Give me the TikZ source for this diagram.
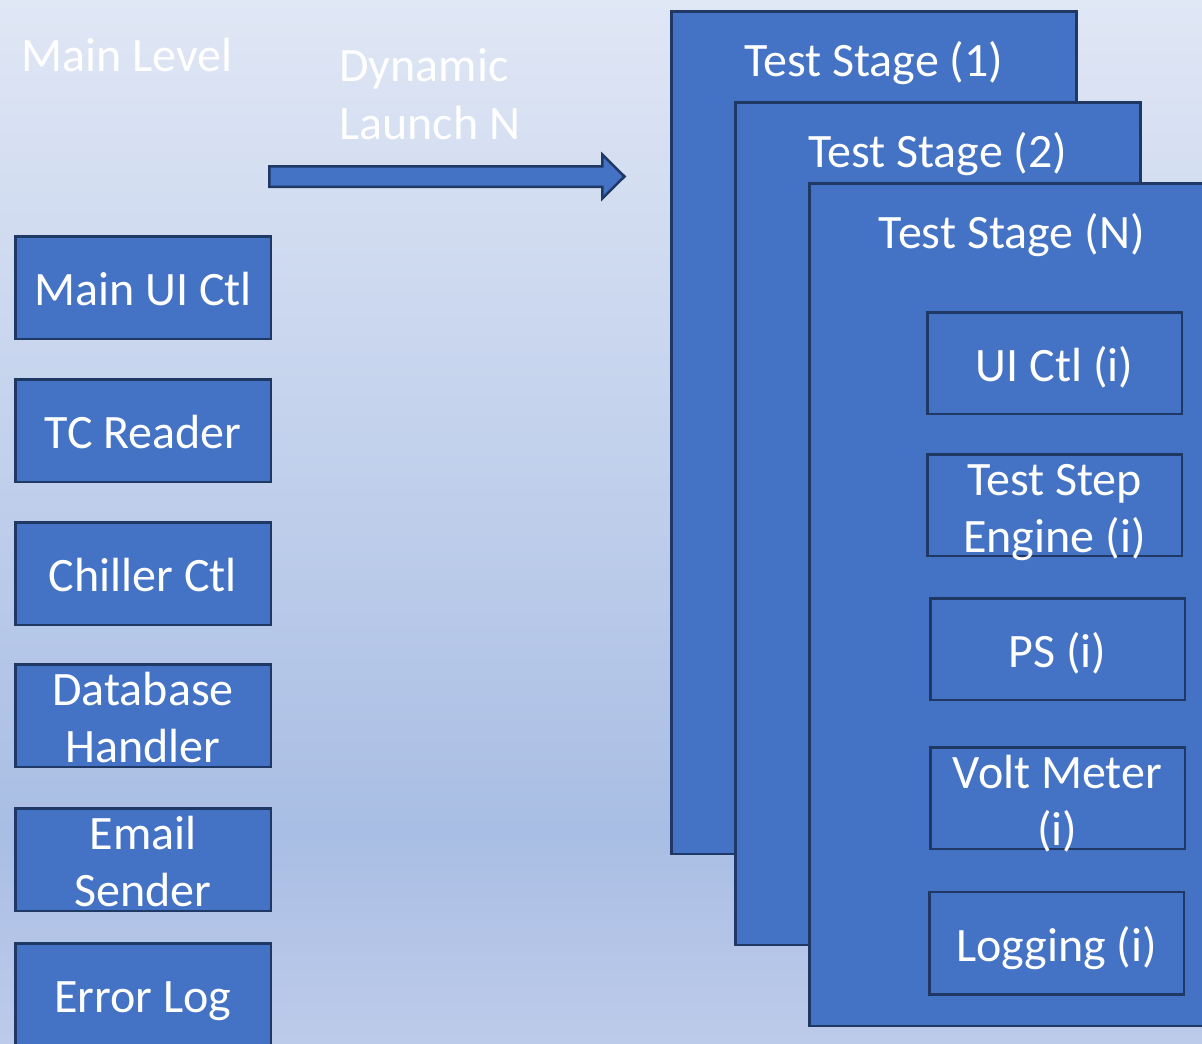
\documentclass[tikz,border=0pt]{standalone}
\usepackage{fontspec}
\setmainfont{Carlito}
\definecolor{boxfill}{HTML}{4472C4}
\definecolor{boxline}{HTML}{1F3864}
\definecolor{bgtop}{HTML}{E0E7F5}
\definecolor{bgmid}{HTML}{A9BEE4}
\definecolor{bgbot}{HTML}{BDCBEA}
\begin{document}
\begin{tikzpicture}[x=1pt,y=-1pt,
  blk/.style={draw=boxline, fill=boxfill, line width=2.5pt, inner sep=0pt, outer sep=0pt, anchor=north west},
  leftbox/.style={blk, minimum width=255.5pt, minimum height=102.5pt},
  innerbox/.style={blk, minimum width=254.5pt, minimum height=101.5pt},
  stagebox/.style={blk, minimum width=405pt, minimum height=842.5pt},
  txt/.style={text=white, font=\fontsize{48}{58}\selectfont, inner sep=0pt, anchor=base},
  headtxt/.style={txt, anchor=base west}]
\useasboundingbox (0,0) rectangle (1202,1044);
% background
\shade[top color=bgtop, bottom color=bgmid] (0,0) rectangle (1202,830.5);
\shade[top color=bgmid, bottom color=bgbot] (0,830) rectangle (1202,1044);

% headings
\node[headtxt] (mainlevel) at (21,71) {Main Level};
\node[headtxt] (dyn1) at (339,81) {Dynamic};
\node[headtxt] (dyn2) at (339,139) {Launch N};

% block arrow
\draw[draw=boxline, fill=boxfill, line width=2.5pt, line join=miter]
  (269.25,166.25) -- (602.25,166.25) -- (602.25,154.5) -- (624.5,176.5) -- (602.25,198.5) -- (602.25,186.75) -- (269.25,186.75) -- cycle;

% left column
\node[leftbox] (mainui) at (15.25,236.25) {};
\node[txt] (mainuit) at ([yshift=-18pt]mainui.center) {Main UI Ctl};
\node[leftbox] (tc) at (15.25,379.25) {};
\node[txt] (tct) at ([yshift=-18pt]tc.center) {TC Reader};
\node[leftbox] (chiller) at (15.25,522.25) {};
\node[txt] (chillert) at ([yshift=-18pt]chiller.center) {Chiller Ctl};
\node[leftbox] (db) at (15.25,664.25) {};
\node[txt] (dbt1) at ([yshift=10pt]db.center) {Database};
\node[txt] (dbt2) at ([yshift=-47pt]db.center) {Handler};
\node[leftbox] (email) at (15.25,808.25) {};
\node[txt] (emailt1) at ([yshift=10pt]email.center) {Email};
\node[txt] (emailt2) at ([yshift=-47pt]email.center) {Sender};
\node[leftbox] (err) at (15.25,943.25) {};
\node[txt] (errt) at ([yshift=-18pt]err.center) {Error Log};

% stages
\node[stagebox] (s1) at (671.25,11.25) {};
\node[txt] (s1t) at ([yshift=-65pt]s1.north) {Test Stage (1)};
\node[stagebox] (s2) at (735.25,102.25) {};
\node[txt] (s2t) at ([yshift=-65pt]s2.north) {Test Stage (2)};
\node[stagebox] (sn) at (809.25,183.25) {};
\node[txt] (snt) at ([yshift=-65pt]sn.north) {Test Stage (N)};

% inner boxes
\node[innerbox] (ui) at (927.25,312.25) {};
\node[txt] (uit) at ([yshift=-18pt]ui.center) {UI Ctl (i)};
\node[innerbox] (tse) at (927.25,454.25) {};
\node[txt] (tset1) at ([yshift=10pt]tse.center) {Test Step};
\node[txt] (tset2) at ([yshift=-47pt]tse.center) {Engine (i)};
\node[innerbox] (ps) at (930.25,598.25) {};
\node[txt] (pst) at ([yshift=-18pt]ps.center) {PS (i)};
\node[innerbox] (vm) at (930.25,747.25) {};
\node[txt] (vmt1) at ([yshift=10pt]vm.center) {Volt Meter};
\node[txt] (vmt2) at ([yshift=-47pt]vm.center) {(i)};
\node[innerbox, minimum height=102.5pt] (log) at (929.25,891.75) {};
\node[txt] (logt) at ([yshift=-18pt]log.center) {Logging (i)};
\end{tikzpicture}
\end{document}
